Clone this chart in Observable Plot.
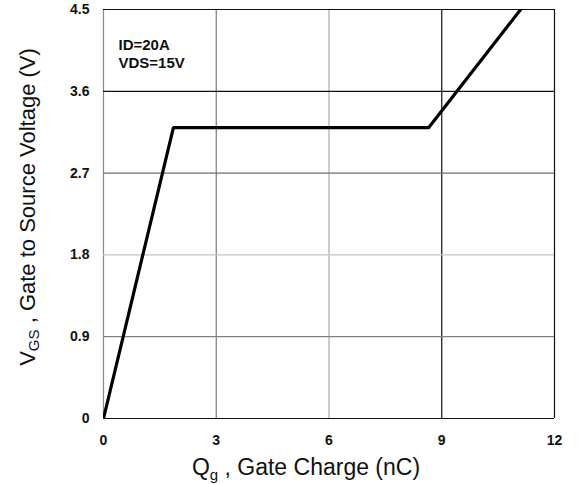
<!DOCTYPE html>
<html>
<head>
<meta charset="utf-8">
<script src="https://cdn.jsdelivr.net/npm/d3@7"></script>
<script src="https://cdn.jsdelivr.net/npm/@observablehq/plot@0.6"></script>
<style>
  html, body { margin: 0; padding: 0; background: #fff; }
  svg { display: block; }
</style>
</head>
<body>
<div id="chart"></div>
<script>
// ---- data ----
const qg = [0, 1.86, 8.65, 11.1];          // gate charge (nC)
const vgs = [0, 3.2, 3.2, 4.5];            // gate-source voltage (V)
const xTicks = [0, 3, 6, 9, 12];
const yTicks = [0, 0.9, 1.8, 2.7, 3.6, 4.5];
const annotationLines = ["ID=20A", "VDS=15V"];

// ---- styles (grid line greys as in the reference) ----
const xGridColors = ["#8a8a8a", "#7a7a7a", "#aaaaaa", "#111111", "#111111"];
const yGridColors = ["#111111", "#808080", "#c4c4c4", "#6e6e6e", "#111111", "#111111"];

const curve = qg.map((q, i) => ({q, v: vgs[i]}));
const xGrid = xTicks.map((t, i) => ({t, c: xGridColors[i]}));
const yGrid = yTicks.map((t, i) => ({t, c: yGridColors[i]}));

const font = "'Liberation Sans', Arial, Helvetica, sans-serif";

const chart = Plot.plot({
  width: 579,
  height: 484,
  marginLeft: 103,
  marginRight: 25,
  marginTop: 9,
  marginBottom: 66,
  style: {fontFamily: font, background: "#fff", color: "#111"},
  x: {domain: [0, 12], ticks: xTicks},
  y: {domain: [0, 4.5], ticks: yTicks},
  color: {type: "identity"},
  marks: [
    Plot.ruleX(xGrid, {x: "t", stroke: "c", strokeWidth: 1.2}),
    Plot.ruleY(yGrid, {y: "t", stroke: "c", strokeWidth: 1.2}),
    Plot.line(curve, {x: "q", y: "v", stroke: "#000", strokeWidth: 3.2, strokeLinejoin: "miter", clip: true}),
    Plot.text([annotationLines.join("\n")], {
      frameAnchor: "top-left", dx: 15, dy: 28, lineAnchor: "top",
      textAnchor: "start", lineHeight: 1.18,
      fontSize: 15, fontWeight: "bold", fill: "#111"
    }),
    Plot.axisX({ticks: xTicks, tickSize: 0, tickPadding: 17, fontSize: 14, fontWeight: "bold", label: null, tickFormat: d => String(d)}),
    Plot.axisY({ticks: yTicks, tickSize: 0, tickPadding: 14, fontSize: 14, fontWeight: "bold", label: null, tickFormat: d => String(d)})
  ]
});

const svg = d3.select(chart);

// x axis title with subscript
const xt = svg.append("text")
  .attr("x", 306).attr("y", 475)
  .attr("text-anchor", "middle")
  .attr("font-family", font).attr("font-size", 23).attr("fill", "#111");
xt.append("tspan").text("Q");
xt.append("tspan").attr("font-size", 15).attr("dy", 5).text("g");
xt.append("tspan").attr("dy", -5).text(" , Gate Charge (nC)");

// y axis title with subscript
const yt = svg.append("text")
  .attr("transform", "translate(35,207) rotate(-90)")
  .attr("text-anchor", "middle")
  .attr("font-family", font).attr("font-size", 22).attr("fill", "#111");
yt.append("tspan").text("V");
yt.append("tspan").attr("font-size", 15).attr("dy", 4).text("GS");
yt.append("tspan").attr("dy", -4).text(" , Gate to Source Voltage (V)");

document.getElementById("chart").appendChild(chart);
</script>
</body>
</html>
